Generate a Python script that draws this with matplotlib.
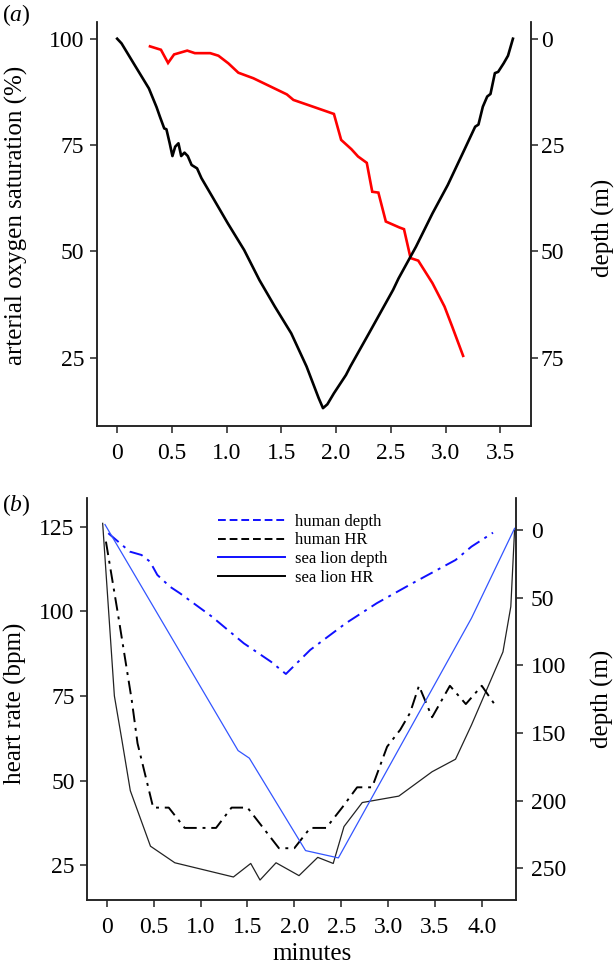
import matplotlib
matplotlib.use('Agg')
import matplotlib.pyplot as plt
from matplotlib.lines import Line2D

plt.rcParams['font.family'] = ['Liberation Serif', 'DejaVu Serif']
plt.rcParams['mathtext.fontset'] = 'custom'
plt.rcParams['mathtext.rm'] = 'Liberation Serif'
plt.rcParams['mathtext.it'] = 'Liberation Serif:italic'
plt.rcParams['font.size'] = 17
plt.rcParams['axes.labelsize'] = 18

# (a) human free dive: depth and arterial O2 saturation
a_depth_t = [0.0, 0.04, 0.16, 0.29, 0.36, 0.39, 0.43, 0.45, 0.48, 0.505, 0.53, 0.56, 0.585,
             0.615, 0.645, 0.68, 0.73, 0.77, 0.87, 1.01, 1.16, 1.30, 1.44, 1.59, 1.73, 1.84,
             1.88, 1.92, 1.98, 2.09, 2.13, 2.30, 2.52, 2.57, 2.73, 2.88, 3.02, 3.17, 3.27,
             3.30, 3.34, 3.38, 3.41, 3.45, 3.48, 3.53, 3.57, 3.615]
a_depth = [0, 1.1, 6.2, 11.7, 16.1, 18.3, 21.1, 21.3, 24.6, 27.6, 25.4, 24.6, 27.6,
           26.8, 27.6, 29.7, 30.5, 32.8, 37.2, 43.4, 49.7, 56.8, 63.0, 69.3, 77.1, 84.5,
           86.9, 86.0, 83.4, 79.1, 77.1, 69.3, 59.1, 56.4, 48.9, 41.1, 34.4, 26.2, 20.7,
           20.2, 16.0, 13.6, 13.0, 8.1, 7.8, 5.8, 4.0, 0]
a_sat_t = [0.30, 0.40, 0.465, 0.52, 0.64, 0.71, 0.85, 0.925, 1.016, 1.107, 1.244, 1.55,
           1.61, 1.79, 1.98, 2.046, 2.14, 2.20, 2.28, 2.33, 2.386, 2.454, 2.578, 2.62,
           2.68, 2.75, 2.88, 2.99, 3.06, 3.16]
a_sat = [98.2, 97.4, 94.3, 96.3, 97.2, 96.6, 96.6, 96.0, 94.2, 92.0, 90.7, 86.9,
         85.6, 84.0, 82.3, 76.2, 74.0, 72.3, 70.8, 64.0, 63.8, 57.0, 55.6, 55.2,
         48.4, 47.8, 42.5, 37.0, 32.3, 25.4]

# (b) human vs sea lion: heart rate and depth
sl_hr_t = [-0.045, 0.08, 0.16, 0.25, 0.465, 0.725, 1.35, 1.535, 1.634, 1.805, 2.05, 2.25,
           2.415, 2.53, 2.725, 3.115, 3.47, 3.72, 3.89, 4.226, 4.31, 4.35]
sl_hr = [126, 75, 62, 47, 30.6, 25.7, 21.5, 25.5, 20.6, 25.7, 21.9, 27.3,
         25.5, 36.4, 43.5, 45.4, 52.6, 56.3, 66.4, 88, 101.4, 124]
hu_hr_t = [-0.01, 0.117, 0.265, 0.327, 0.494, 0.66, 0.83, 1.165, 1.33, 1.50, 1.836, 2.0,
           2.17, 2.34, 2.51, 2.67, 2.83, 2.99, 3.13, 3.235, 3.33, 3.47, 3.66, 3.83, 4.0, 4.15]
hu_hr = [120.6, 99.4, 73.8, 61, 42, 42, 36, 36, 42, 42, 30, 30,
         36, 36, 42, 48, 48, 60, 65, 70, 78, 68.7, 78, 72.6, 78, 72]
hu_depth_t = [0.015, 0.12, 0.245, 0.37, 0.46, 0.538, 0.673, 0.78, 1.12, 1.46, 1.75, 1.91,
              2.17, 2.55, 2.88, 3.26, 3.72, 3.89, 4.12]
hu_depth = [2.4, 8.6, 16, 18.5, 23.4, 33.2, 41.9, 46.8, 64, 83.7, 97.3, 106.4,
            88.6, 68.9, 54.1, 39.4, 22.2, 12.3, 2]
sl_depth_t = [-0.02, 1.40, 1.52, 2.12, 2.47, 3.89, 4.35]
sl_depth = [-4, 163, 168.6, 236.9, 242.3, 65.2, -1.2]

legend_labels = ['human depth', 'human HR', 'sea lion depth', 'sea lion HR']

W, H = 616, 968
fig = plt.figure(figsize=(W / 100, H / 100), dpi=100)

def box(l, r, t, b):
    return [l / W, 1 - b / H, (r - l) / W, (b - t) / H]

def style(ax):
    ax.spines['top'].set_visible(False)
    for s in ax.spines.values():
        s.set_linewidth(1.1)
        s.set_color('#222222')
    ax.tick_params(direction='out', length=5, width=1.1, color='#222222', pad=4)

dashdot = (0, (7, 3, 1.5, 3))

# ---- panel (a)
ax1 = fig.add_axes(box(97, 531, 21.7, 426))
ax1.plot(a_sat_t, a_sat, color='#ff0000', lw=1.9, solid_joinstyle='miter')
ax1.set_xlim(-0.184, 3.78)
ax1.set_ylim(8.9, 104.0)
ax1.set_xticks([0, 0.5, 1.0, 1.5, 2.0, 2.5, 3.0, 3.5])
ax1.set_xticklabels(['0', '0.5', '1.0', '1.5', '2.0', '2.5', '3.0', '3.5'])
ax1.set_yticks([25, 50, 75, 100])
ax1.set_ylabel('arterial oxygen saturation (%)')
ax1.yaxis.set_label_coords(-0.16, 0.52)
style(ax1)
ax1.tick_params(axis='x', pad=7)
ax1b = ax1.twinx()
ax1b.plot(a_depth_t, a_depth, color='black', lw=1.9)
ax1b.set_ylim(91.1, -4.0)
ax1b.set_yticks([0, 25, 50, 75])
ax1b.set_ylabel('depth (m)')
ax1b.yaxis.set_label_coords(1.14, 0.49)
style(ax1b)
ax1b.tick_params(axis='y', pad=2)

# ---- panel (b)
ax2 = fig.add_axes(box(87.2, 515.5, 498.3, 900))
ax2.plot(sl_hr_t, sl_hr, color='#222222', lw=0.9)
ax2.plot(hu_hr_t, hu_hr, color='black', lw=1.4, linestyle=dashdot)
ax2.set_xlim(-0.21, 4.36)
ax2.set_ylim(14.7, 133.4)
ax2.set_xticks([0, 0.5, 1.0, 1.5, 2.0, 2.5, 3.0, 3.5, 4.0])
ax2.set_xticklabels(['0', '0.5', '1.0', '1.5', '2.0', '2.5', '3.0', '3.5', '4.0'])
ax2.set_yticks([25, 50, 75, 100, 125])
ax2.set_ylabel('heart rate (bpm)')
ax2.yaxis.set_label_coords(-0.14, 0.49)
ax2.set_xlabel('minutes')
ax2.xaxis.set_label_coords(0.526, -0.107)
style(ax2)
ax2.tick_params(axis='x', pad=7)
ax2b = ax2.twinx()
ax2b.plot(hu_depth_t, hu_depth, color='#1010ff', lw=1.4, linestyle=dashdot)
ax2b.plot(sl_depth_t, sl_depth, color='#3355ff', lw=0.9)
ax2b.set_ylim(273.4, -23.4)
ax2b.set_yticks([0, 50, 100, 150, 200, 250])
ax2b.set_ylabel('depth (m)')
ax2b.yaxis.set_label_coords(1.176, 0.5)
style(ax2b)
ax2b.tick_params(axis='y', pad=6)

handles = [Line2D([], [], color='#1010ff', lw=1.4, linestyle=(0, (4, 2))),
           Line2D([], [], color='black', lw=1.4, linestyle=(0, (4, 2))),
           Line2D([], [], color='#1010ff', lw=1.4),
           Line2D([], [], color='black', lw=1.4)]
fig.legend(handles, legend_labels, loc='upper left', bbox_to_anchor=(218 / W, 1 - 514 / H),
           frameon=False, fontsize=12, handlelength=4.0, handletextpad=0.6,
           labelspacing=0.15, borderpad=0, borderaxespad=0)

fig.text(0.003, 1 - 15 / H, r'($\mathit{a}$)', va='center', ha='left', fontsize=17)
fig.text(0.003, 1 - 505 / H, r'($\mathit{b}$)', va='center', ha='left', fontsize=17)

fig.savefig('out.png', dpi=100)
